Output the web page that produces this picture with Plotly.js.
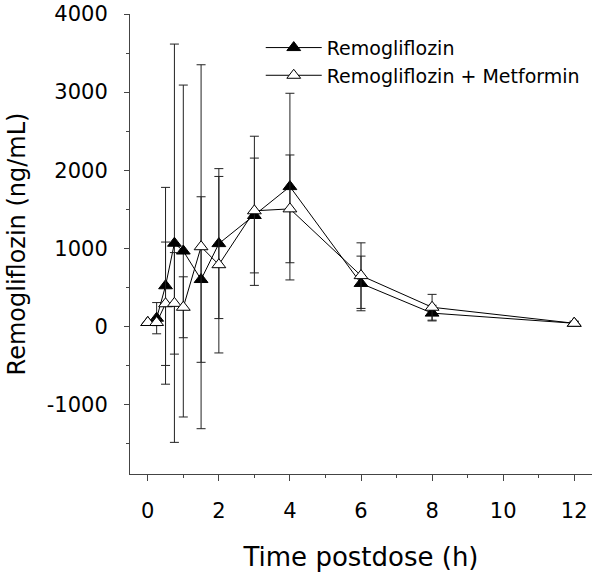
<!DOCTYPE html>
<html>
<head>
<meta charset="utf-8">
<script src="https://cdn.plot.ly/plotly-3.0.1.min.js"></script>
<style>html,body{margin:0;padding:0;background:#fff;}#chart{width:600px;height:578px;}</style>
</head>
<body>
<div id="chart"></div>
<script>
const time = [0, 0.25, 0.5, 0.75, 1, 1.5, 2, 3, 4, 6, 8, 12];
const remo = [50, 105, 520, 1065, 965, 600, 1060, 1420, 1790, 550, 170, 40];
const remoSD = [0, 200, 1260, 2550, 2125, 1060, 960, 735, 1195, 350, 100, 25];
const combo = [50, 50, 290, 295, 245, 1020, 790, 1480, 1505, 650, 245, 40];
const comboSD = [0, 40, 790, 650, 390, 2330, 1130, 955, 690, 420, 165, 25];
const seriesNames = ['Remogliflozin', 'Remogliflozin + Metformin'];
const xTicks = [0, 2, 4, 6, 8, 10, 12];
const xTickText = ['0', '2', '4', '6', '8', '10', '12'];
const yTicks = [-1000, 0, 1000, 2000, 3000, 4000];
const yTickText = ['-1000', '0', '1000', '2000', '3000', '4000'];

const FONT = 'DejaVu Sans, Liberation Sans, Arial, sans-serif';

const traces = [
  {
    x: time, y: remo, name: seriesNames[0], type: 'scatter', mode: 'lines+markers',
    line: {color: '#000', width: 1},
    marker: {symbol: 'triangle-up', size: 12, color: '#000', line: {color: '#000', width: 1}},
    error_y: {type: 'data', array: remoSD, visible: true, color: '#222', thickness: 1, width: 4.5}
  },
  {
    x: time, y: combo, name: seriesNames[1], type: 'scatter', mode: 'lines+markers',
    line: {color: '#000', width: 1},
    marker: {symbol: 'triangle-up', size: 12, color: '#fff', line: {color: '#000', width: 1}},
    error_y: {type: 'data', array: comboSD, visible: true, color: '#222', thickness: 1, width: 4.5}
  }
];

const layout = {
  width: 600, height: 578,
  margin: {l: 130, r: 8, t: 14, b: 104},
  paper_bgcolor: '#fff', plot_bgcolor: '#fff',
  font: {family: FONT, color: '#000', size: 20},
  showlegend: true,
  legend: {
    x: 0.283, y: 0.968, xanchor: 'left', yanchor: 'top',
    bgcolor: 'rgba(0,0,0,0)', borderwidth: 0,
    font: {family: FONT, size: 19, color: '#000'},
    tracegroupgap: 0, itemwidth: 56
  },
  xaxis: {
    range: [-0.5, 12.5], showgrid: false, zeroline: false,
    showline: true, linecolor: '#444', linewidth: 1,
    ticks: 'outside', ticklen: 6, tickcolor: '#444', tickwidth: 1,
    tickvals: xTicks, ticktext: xTickText,
    tickfont: {family: FONT, size: 21, color: '#000'},
    ticklabelstandoff: 12,
    minor: {dtick: 1, tick0: 0, ticks: 'outside', ticklen: 3, tickcolor: '#444', showgrid: false},
    title: {text: 'Time postdose (h)', font: {family: FONT, size: 26, color: '#000'}, standoff: 25}
  },
  yaxis: {
    range: [-1890, 4000], showgrid: false, zeroline: false,
    showline: true, linecolor: '#444', linewidth: 1,
    ticks: 'outside', ticklen: 5, tickcolor: '#444', tickwidth: 1,
    tickvals: yTicks, ticktext: yTickText,
    tickfont: {family: FONT, size: 21, color: '#000'},
    ticklabelstandoff: 12,
    minor: {dtick: 500, tick0: 0, ticks: 'outside', ticklen: 3, tickcolor: '#444', showgrid: false},
    title: {text: 'Remogliflozin (ng/mL)', font: {family: FONT, size: 24, color: '#000'}, standoff: 14}
  }
};

Plotly.newPlot('chart', traces, layout, {displayModeBar: false, staticPlot: true});
</script>
</body>
</html>
